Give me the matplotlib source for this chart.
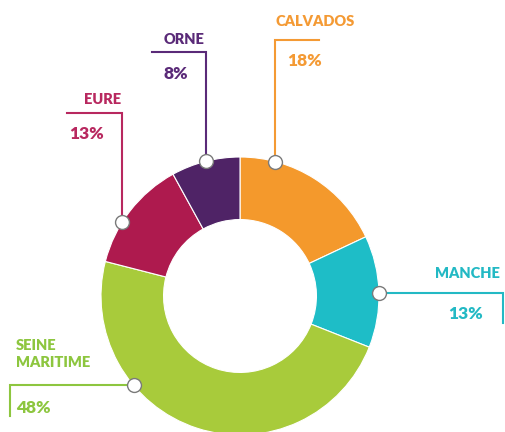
import numpy as np
import matplotlib
matplotlib.use("Agg")
import matplotlib.pyplot as plt

# ── Data ──────────────────────────────────────────────────────────────────────
departements = ["CALVADOS", "MANCHE", "SEINE\nMARITIME", "EURE", "ORNE"]
parts = [18, 13, 48, 13, 8]
colors = ["#F4992C", "#1EBDC7", "#A8CB3B", "#AE1A4E", "#4F2366"]
text_colors = ["#F49A34", "#23B9C4", "#8DC63F", "#B8285F", "#5A2A78"]

# ── Layout (pixel space, y upwards) ───────────────────────────────────────────
W, H = 505, 432
cx, cy, R = 240, 136, 139
hole = 0.45

# angle where each leader touches the ring, leader elbow point, text positions
anchor_deg = [75.3, 1.3, 220.0, 148.0, 104.0]
elbow = [(None, 392), (503, None), (10, None), (None, 319), (None, 380)]
leader_end = [(319, 392), (503, 109), (10, 16), (67, 319), (152, 380)]
name_pos = [(275, 411, "left"), (500, 159, "right"), (16, 78, "left"),
            (121, 333, "right"), (205, 393, "right")]
pct_pos = [(287, 371, "left"), (448, 118, "left"), (16, 24, "left"),
           (69, 298, "left"), (163, 358, "left")]

fig = plt.figure(figsize=(W / 100, H / 100), dpi=100)
ax = fig.add_axes([0, 0, 1, 1])
ax.pie(parts, colors=colors, startangle=90, counterclock=False,
       center=(cx, cy), radius=R,
       wedgeprops=dict(width=R * hole, edgecolor="white", linewidth=0.8))
ax.set_xlim(0, W)
ax.set_ylim(0, H)
ax.set_aspect("equal")
ax.axis("off")

for i, name in enumerate(departements):
    a = np.radians(anchor_deg[i])
    mx, my = cx + R * np.cos(a), cy + R * np.sin(a)
    ex, ey = elbow[i]
    ex = mx if ex is None else ex
    ey = my if ey is None else ey
    lx, ly = leader_end[i]
    ax.plot([mx, ex, lx], [my, ey, ly], color=text_colors[i], lw=1.5,
            solid_joinstyle="miter", zorder=3)
    ax.plot(mx, my, "o", ms=10, mfc="white", mec="#7a7a7a", mew=1.0, zorder=4)

    x, y, ha = name_pos[i]
    ax.text(x, y, name, ha=ha, va="center", color=text_colors[i],
            fontsize=10.5, fontweight="heavy", family="Lato", linespacing=1.45)
    x, y, ha = pct_pos[i]
    ax.text(x, y, f"{parts[i]}%", ha=ha, va="center", color=text_colors[i],
            fontsize=12.5, fontweight="heavy", family="Lato")

plt.savefig("out.png", dpi=100)
